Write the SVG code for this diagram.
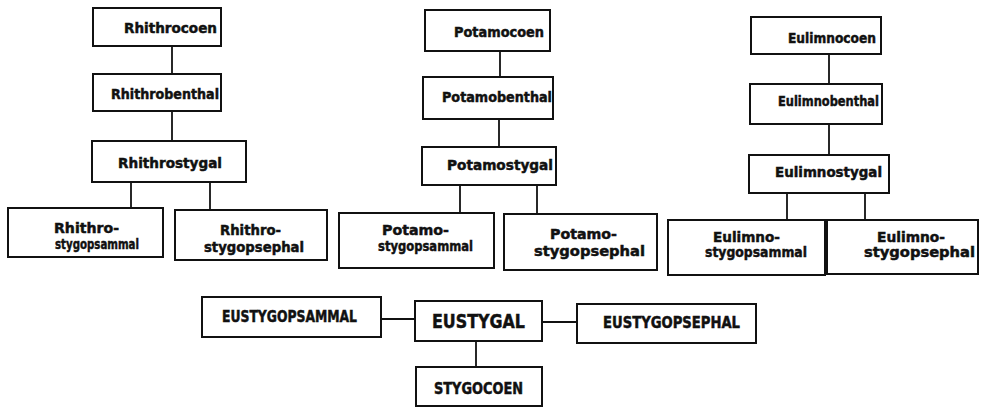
<svg xmlns="http://www.w3.org/2000/svg" width="982" height="408" viewBox="0 0 982 408">
<style>
rect{fill:#fff;stroke:#111;stroke-width:2}
text{font-family:"DejaVu Sans","Liberation Sans",sans-serif;font-weight:bold;font-size:14px;fill:#111;stroke:#111;stroke-width:0.5}
.big{font-size:20px}
.cap{font-size:15px}
#connectors line{stroke:#111;stroke-width:1.8}
</style>
<rect x="0" y="0" width="982" height="408" style="fill:#fff;stroke:none"/>
<g id="connectors">
<line x1="172" y1="46" x2="172" y2="74"/>
<line x1="172" y1="111" x2="172" y2="141"/>
<line x1="131" y1="182" x2="131" y2="208"/>
<line x1="210" y1="182" x2="210" y2="210"/>
<line x1="500" y1="51" x2="500" y2="77"/>
<line x1="499" y1="119" x2="499" y2="147"/>
<line x1="460" y1="185" x2="460" y2="213"/>
<line x1="537" y1="185" x2="537" y2="214"/>
<line x1="829" y1="54" x2="829" y2="84"/>
<line x1="829" y1="124" x2="829" y2="155"/>
<line x1="787" y1="193" x2="787" y2="220"/>
<line x1="865" y1="193" x2="865" y2="220"/>
<line x1="381" y1="319" x2="415" y2="319"/>
<line x1="542" y1="322" x2="577" y2="322"/>
<line x1="476" y1="341" x2="476" y2="367"/>
</g>
<g id="rhithrocoen"><rect x="93" y="8" width="128" height="38"/><text x="124" y="33" textLength="93" lengthAdjust="spacingAndGlyphs">Rhithrocoen</text></g>
<g id="rhithrobenthal"><rect x="93" y="74" width="128" height="37"/><text x="111" y="99" textLength="108" lengthAdjust="spacingAndGlyphs">Rhithrobenthal</text></g>
<g id="rhithrostygal"><rect x="92" y="141" width="154" height="41"/><text x="118" y="168" textLength="104" lengthAdjust="spacingAndGlyphs">Rhithrostygal</text></g>
<g id="rhithrostygopsammal"><rect x="8" y="208" width="155" height="49"/><text x="54" y="233" textLength="65" lengthAdjust="spacingAndGlyphs">Rhithro-</text><text x="55" y="249" textLength="84" lengthAdjust="spacingAndGlyphs">stygopsammal</text></g>
<g id="rhithrostygopsephal"><rect x="175" y="210" width="152" height="50"/><text x="220" y="235" textLength="61" lengthAdjust="spacingAndGlyphs">Rhithro-</text><text x="204" y="252" textLength="100" lengthAdjust="spacingAndGlyphs">stygopsephal</text></g>
<g id="potamocoen"><rect x="425" y="10" width="125" height="41"/><text x="454" y="37" textLength="90" lengthAdjust="spacingAndGlyphs">Potamocoen</text></g>
<g id="potamobenthal"><rect x="423" y="77" width="130" height="42"/><text x="442" y="102" textLength="110" lengthAdjust="spacingAndGlyphs">Potamobenthal</text></g>
<g id="potamostygal"><rect x="422" y="147" width="134" height="38"/><text x="447" y="170" textLength="106" lengthAdjust="spacingAndGlyphs">Potamostygal</text></g>
<g id="potamostygopsammal"><rect x="339" y="213" width="155" height="55"/><text x="382" y="235" textLength="67" lengthAdjust="spacingAndGlyphs">Potamo-</text><text x="378" y="251" textLength="95" lengthAdjust="spacingAndGlyphs">stygopsammal</text></g>
<g id="potamostygopsephal"><rect x="504" y="214" width="153" height="56"/><text x="550" y="239" textLength="67" lengthAdjust="spacingAndGlyphs">Potamo-</text><text x="534" y="256" textLength="111" lengthAdjust="spacingAndGlyphs">stygopsephal</text></g>
<g id="eulimnocoen"><rect x="751" y="17" width="130" height="37"/><text x="788" y="43" textLength="88" lengthAdjust="spacingAndGlyphs">Eulimnocoen</text></g>
<g id="eulimnobenthal"><rect x="750" y="84" width="132" height="40"/><text x="778" y="106" textLength="101" lengthAdjust="spacingAndGlyphs">Eulimnobenthal</text></g>
<g id="eulimnostygal"><rect x="749" y="155" width="140" height="38"/><text x="775" y="177" textLength="107" lengthAdjust="spacingAndGlyphs">Eulimnostygal</text></g>
<g id="eulimnostygopsammal"><rect x="668" y="220" width="157" height="55"/><text x="713" y="242" textLength="67" lengthAdjust="spacingAndGlyphs">Eulimno-</text><text x="705" y="257" textLength="102" lengthAdjust="spacingAndGlyphs">stygopsammal</text></g>
<g id="eulimnostygopsephal"><rect x="827" y="220" width="151" height="54"/><text x="877" y="242" textLength="68" lengthAdjust="spacingAndGlyphs">Eulimno-</text><text x="864" y="257" textLength="111" lengthAdjust="spacingAndGlyphs">stygopsephal</text></g>
<g id="eustygopsammal"><rect x="202" y="297" width="179" height="40"/><text class="cap" x="222" y="322" textLength="135" lengthAdjust="spacingAndGlyphs">EUSTYGOPSAMMAL</text></g>
<g id="eustygal"><rect x="415" y="301" width="127" height="40"/><text class="big" x="432" y="328" textLength="93" lengthAdjust="spacingAndGlyphs">EUSTYGAL</text></g>
<g id="eustygopsephal"><rect x="577" y="304" width="179" height="39"/><text class="cap" x="603" y="328" textLength="137" lengthAdjust="spacingAndGlyphs">EUSTYGOPSEPHAL</text></g>
<g id="stygocoen"><rect x="416" y="367" width="126" height="39"/><text class="cap" x="434" y="394" textLength="89" lengthAdjust="spacingAndGlyphs">STYGOCOEN</text></g>
</svg>
